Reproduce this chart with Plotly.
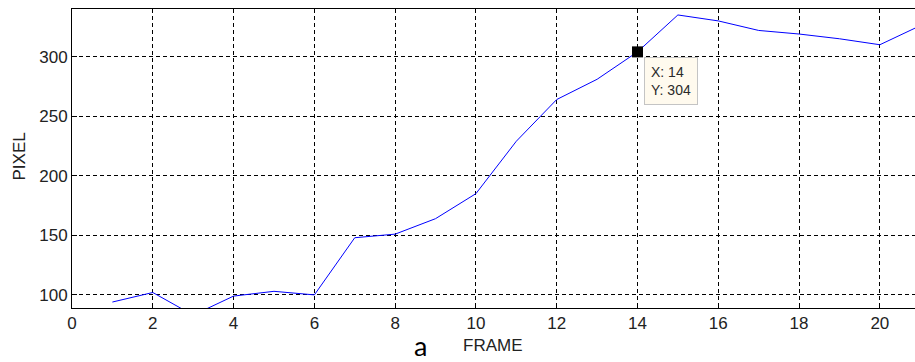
import plotly.graph_objects as go

# Tracked object position per frame
frames = list(range(1, 22))
pixel = [94, 102, 83, 99, 103, 100, 148, 151, 164, 185, 229, 264, 281, 304,
         335, 330, 322, 319, 315, 310, 326]

# Data cursor
cursor_frame = 14
cursor_pixel = 304

x_ticks = [0, 2, 4, 6, 8, 10, 12, 14, 16, 18, 20]
y_ticks = [100, 150, 200, 250, 300]

W, H = 915, 362
L, R, T, B = 72, 0, 9, 54
plot_w = W - L - R
plot_h = H - T - B


def px_to_paper(px, py):
    """Convert page pixel coordinates to paper coordinates."""
    return (px - L) / plot_w, (H - B - py) / plot_h


fig = go.Figure()
fig.add_trace(go.Scatter(x=frames, y=pixel, mode="lines",
                         line=dict(color="#0000ff", width=1), hoverinfo="skip"))
fig.add_trace(go.Scatter(x=[cursor_frame], y=[cursor_pixel], mode="markers",
                         marker=dict(symbol="square", size=11, color="black"),
                         hoverinfo="skip"))

# data tip box
fig.add_annotation(x=cursor_frame, y=cursor_pixel, xref="x", yref="y",
                   text=f"X: {cursor_frame}<br>Y: {cursor_pixel}",
                   showarrow=False, xanchor="left", yanchor="top",
                   xshift=6, yshift=-5, align="left",
                   font=dict(family="Arial", size=14, color="#2a2a2a"),
                   bgcolor="#fffaee", bordercolor="#c4c4c4", borderwidth=1,
                   borderpad=6)

label_font = dict(family="Arial", size=17, color="#222")

fx, fy = px_to_paper(493, 345)
fig.add_annotation(x=fx, y=fy, xref="paper", yref="paper", text="FRAME",
                   showarrow=False, xanchor="center", yanchor="middle", font=label_font)

px_, py_ = px_to_paper(18.5, 157)
fig.add_annotation(x=px_, y=py_, xref="paper", yref="paper", text="PIXEL",
                   textangle=-90, showarrow=False, xanchor="center", yanchor="middle",
                   font=label_font)

ax_, ay_ = px_to_paper(420, 345)
fig.add_annotation(x=ax_, y=ay_, xref="paper", yref="paper", text="a",
                   showarrow=False, xanchor="center", yanchor="middle",
                   font=dict(family="Lato", size=27, color="black"))

axis_common = dict(showline=True, linecolor="black", linewidth=1, mirror=True,
                   ticks="inside", ticklen=5, tickcolor="black",
                   showgrid=True, gridcolor="black", gridwidth=1, griddash="4px,3px",
                   zeroline=False,
                   tickfont=dict(family="Arial", size=17, color="#222"))

fig.update_xaxes(range=[0, 20.87], tickvals=x_ticks, **axis_common)
fig.update_yaxes(range=[89, 340], tickvals=y_ticks, **axis_common)

fig.update_layout(width=W, height=H, margin=dict(l=L, r=R, t=T, b=B),
                  paper_bgcolor="white", plot_bgcolor="white", showlegend=False)

fig.write_html("out.html")
